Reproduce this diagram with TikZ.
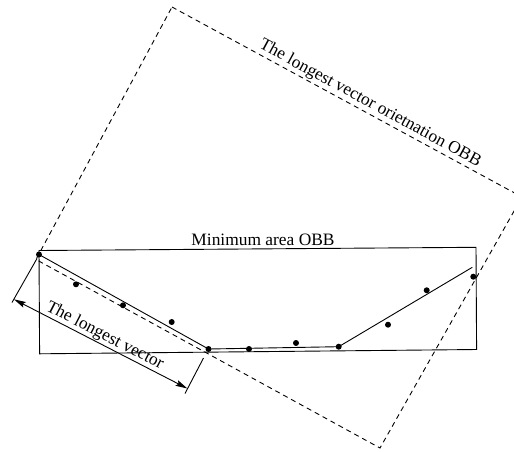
\documentclass[tikz,border=0pt]{standalone}
\usepackage{fontspec}
\setmainfont{Liberation Serif}
\usetikzlibrary{arrows.meta}
\begin{document}
\begin{tikzpicture}[x=1pt,y=-1pt,
  dot/.style={circle,fill=black,inner sep=0pt,minimum size=6pt},
  obbline/.style={line width=0.9pt, dash pattern=on 5pt off 4pt},
  solidline/.style={line width=0.9pt},
  lbl/.style={font=\fontsize{17.4}{20}\selectfont, inner sep=0.6pt},
  dimarrow/.style={line width=0.9pt, {Stealth[length=12pt,width=6pt,inset=2pt]}-{Stealth[length=12pt,width=6pt,inset=2pt]}}]
\useasboundingbox (0,0) rectangle (514,451);
\clip (0,0) rectangle (514,451);
% minimum area OBB
\coordinate (m1) at (39,250.5);
\coordinate (m2) at (476,247.3);
\coordinate (m3) at (476.6,349.5);
\coordinate (m4) at (39.6,353.8);
\draw[solidline] (m1) -- (m2) -- (m3) -- (m4) -- cycle;
\node[lbl, anchor=base] (mlabel) at (263,245.5) {Minimum area OBB};
% longest vector orientation OBB
\coordinate (oA) at (172,7);
\coordinate (oB) at (522,197);
\coordinate (oC) at (380,448);
\coordinate (oD) at (36,259.5);
\draw[obbline] (oA) -- (oB) -- (oC) -- (oD) -- cycle;
\path (oA) -- (oB) node[lbl, sloped, above=1pt, pos=0.553] (olabel) {The longest vector orietnation OBB};
% points
\node[dot] (p1) at (39,254.5) {};
\node[dot] (p2) at (76,284.3) {};
\node[dot] (p3) at (123,305.3) {};
\node[dot] (p4) at (171.7,322) {};
\node[dot] (p5) at (208.5,349) {};
\node[dot] (p6) at (249,349) {};
\node[dot] (p7) at (296,343) {};
\node[dot] (p8) at (338.7,346.7) {};
\node[dot] (p9) at (388,324.7) {};
\node[dot] (p10) at (426.7,290.3) {};
\node[dot] (p11) at (473.3,276.7) {};
% hull polyline
\coordinate (hend) at (472.3,267.3);
\draw[solidline] (p1.center) -- (p5.center) -- (p8.center) -- (hend);
% dimension
\coordinate (e1a) at (37,258.5);
\coordinate (e1b) at (12,302.5);
\coordinate (e2a) at (203.5,358);
\coordinate (e2b) at (185,393.5);
\draw[solidline] (e1a) -- (e1b);
\draw[solidline] (e2a) -- (e2b);
\coordinate (t1) at (13.9,299.3);
\coordinate (t2) at (187.4,388.5);
\draw[dimarrow] (t1) -- (t2) node[lbl, sloped, above, midway] (vlabel) {The longest vector};
\end{tikzpicture}
\end{document}
